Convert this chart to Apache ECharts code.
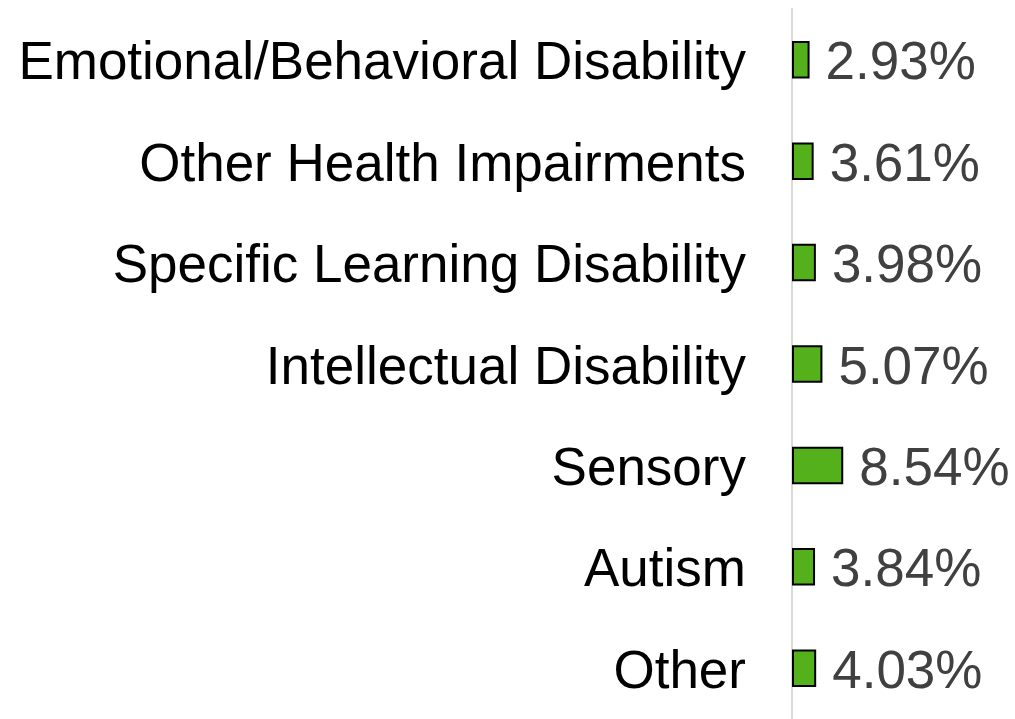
<!DOCTYPE html>
<html>
<head>
<meta charset="utf-8">
<script src="https://cdn.jsdelivr.net/npm/echarts@6/dist/echarts.min.js"></script>
<style>
  html, body { margin: 0; padding: 0; background: #fff; }
  #chart { width: 1015px; height: 719px; }
</style>
</head>
<body>
<div id="chart"></div>
<script>
// Disability categories, top to bottom
const categories = [
  'Emotional/Behavioral Disability',
  'Other Health Impairments',
  'Specific Learning Disability',
  'Intellectual Disability',
  'Sensory',
  'Autism',
  'Other'
];
// Percentage for each category
const values = [2.93, 3.61, 3.98, 5.07, 8.54, 3.84, 4.03];

const FONT = 'Liberation Sans, Arial, sans-serif';

const chart = echarts.init(document.getElementById('chart'));
chart.setOption({
  animation: false,
  backgroundColor: '#ffffff',
  grid: { left: 792, right: 13, top: 9, bottom: -3, containLabel: false },
  xAxis: {
    type: 'value',
    min: 0,
    max: 35,
    show: false
  },
  yAxis: {
    type: 'category',
    data: categories,
    inverse: true,
    axisLine: { show: true, lineStyle: { color: '#d9d9d9', width: 2 } },
    axisTick: { show: false },
    axisLabel: {
      margin: 46,
      formatter: v => '{c|' + v + '}',
      rich: {
        // top padding nudges the text down a few pixels
        c: { color: '#000000', fontFamily: FONT, fontSize: 53, padding: [10, 0, 0, 0] }
      }
    }
  },
  series: [{
    type: 'bar',
    data: values,
    barWidth: '37%',
    itemStyle: { color: '#54b11c', borderColor: '#000000', borderWidth: 2 },
    label: {
      show: true,
      position: 'right',
      distance: 16,
      offset: [0, 5],
      color: '#404040',
      fontFamily: FONT,
      fontSize: 53,
      formatter: p => p.value.toFixed(2) + '%'
    }
  }]
});
</script>
</body>
</html>
